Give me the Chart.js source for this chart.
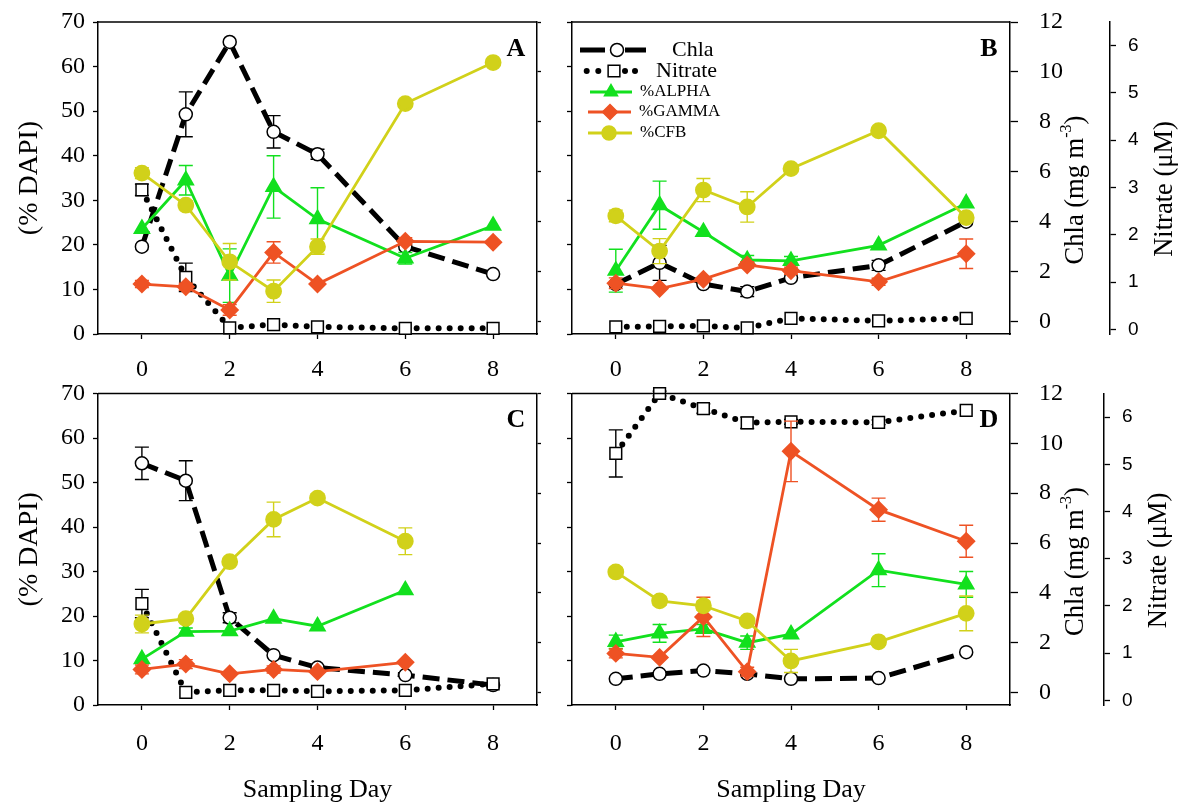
<!DOCTYPE html>
<html lang="en">
<head>
<meta charset="UTF-8">
<title>Bacterial groups, Chla and nitrate</title>
<script src="https://cdn.jsdelivr.net/npm/chart.js@4.4.1/dist/chart.umd.min.js"></script>
<style>
  body { margin: 0; background: #fff; }
  #wrap { position: relative; width: 1185px; height: 812px; overflow: hidden; }
  canvas { position: absolute; }
</style>
</head>
<body>
<div id="wrap">
  <canvas id="chartA" width="560" height="390" style="left:0;top:0"></canvas>
  <canvas id="chartB" width="645" height="390" style="left:540px;top:0"></canvas>
  <canvas id="chartC" width="560" height="441" style="left:0;top:371px"></canvas>
  <canvas id="chartD" width="645" height="441" style="left:540px;top:371px"></canvas>
</div>
<script>
const days = [0, 1, 2, 3, 4, 6, 8];
const dayTicks = [0, 2, 4, 6, 8];
const dapiTicks = [0, 10, 20, 30, 40, 50, 60, 70];
const chlaTicks = [0, 2, 4, 6, 8, 10, 12];
const nitrateTicks = [0, 1, 2, 3, 4, 5, 6];

// panel A
const aChla = [3.0, 8.3, 11.2, 7.6, 6.7, 3.0, 1.9];
const aChlaErr = [0, 0.9, 0, 0.65, 0.2, 0, 0];
const aNitrate = [2.95, 1.1, 0.03, 0.1, 0.05, 0.02, 0.02];
const aNitrateErr = [0.12, 0.3, 0, 0, 0, 0, 0];
const aAlpha = [23.6, 34.5, 13.1, 33.0, 25.8, 17.0, 24.3];
const aAlphaErr = [0, 3.3, 6, 7, 7, 1.3, 0];
const aGamma = [11.2, 10.6, 5.4, 18.3, 11.2, 20.8, 20.6];
const aGammaErr = [0.8, 0.8, 1.2, 2.4, 0, 0.8, 0];
const aCfb = [36.1, 28.9, 16.2, 9.6, 19.6, 51.7, 60.9];
const aCfbErr = [1.2, 1.0, 4.1, 2.5, 1.7, 0, 0.6];

// panel B
const bChla = [1.5, 2.35, 1.5, 1.2, 1.75, 2.25, 4.0];
const bChlaErr = [0, 0.7, 0, 0.2, 0, 0.2, 0];
const bNitrate = [0.05, 0.06, 0.07, 0.03, 0.23, 0.18, 0.23];
const bNitrateErr = [0, 0, 0, 0, 0, 0, 0];
const bAlpha = [14.2, 28.9, 22.9, 16.6, 16.4, 19.9, 29.3];
const bAlphaErr = [4.8, 5.4, 0, 1, 1, 0, 0];
const bGamma = [11.4, 10.2, 12.3, 15.5, 14.2, 11.7, 18.0];
const bGammaErr = [1.2, 0, 0, 0.7, 0.8, 0.8, 3.3];
const bCfb = [26.5, 18.6, 32.3, 28.5, 37.1, 45.6, 26.1];
const bCfbErr = [1.3, 2.8, 2.6, 3.4, 0.6, 0, 0];

// panel C
const cChla = [9.2, 8.5, 3.0, 1.5, 1.0, 0.7, 0.3];
const cChlaErr = [0.65, 0.8, 0.2, 0, 0, 0, 0];
const cNitrate = [2.05, 0.17, 0.21, 0.21, 0.19, 0.21, 0.35];
const cNitrateErr = [0.3, 0, 0, 0, 0, 0, 0];
const cAlpha = [10.3, 16.5, 16.6, 19.4, 17.7, 25.8, null];
const cAlphaErr = [0, 0.8, 0, 0, 0, 0, 0];
const cGamma = [8.0, 9.2, 7.0, 8.0, 7.5, 9.6, null];
const cGammaErr = [1, 1, 0, 0.8, 0, 0, 0];
const cCfb = [18.2, 19.4, 32.2, 41.7, 46.5, 36.8, null];
const cCfbErr = [2, 0.7, 0.5, 3.9, 1, 3, 0];

// panel D
const dChla = [0.55, 0.75, 0.88, 0.75, 0.55, 0.58, 1.62];
const dChlaErr = [0, 0, 0, 0, 0, 0, 0];
const dNitrate = [5.23, 6.5, 6.18, 5.88, 5.9, 5.89, 6.14];
const dNitrateErr = [0.5, 0.05, 0.1, 0.12, 0.05, 0.05, 0];
const dAlpha = [14.2, 16.1, 17.1, 14.0, 15.9, 30.3, 27.1];
const dAlphaErr = [1.5, 2, 1, 1.5, 0, 3.7, 2.9];
const dGamma = [11.6, 10.7, 19.8, 7.5, 57.0, 43.9, 36.8];
const dGammaErr = [1, 0, 4.4, 1, 6.8, 2.6, 3.6];
const dCfb = [29.9, 23.4, 22.3, 18.9, 9.9, 14.2, 20.6];
const dCfbErr = [1, 1, 1, 0, 2.6, 0.7, 3.9];

const SERIF = "'Liberation Serif', 'Times New Roman', serif";
const SANS = "'Liberation Sans', Arial, sans-serif";
const GREEN = '#12e01e';
const RED = '#ee5224';
const YELLOW = '#d1d11a';

function series(vals) {
  return days.map((d, i) => ({ x: d, y: vals[i] }));
}

function makeDatasets(chla, chlaErr, nit, nitErr, alpha, alphaErr, gamma, gammaErr, cfb, cfbErr) {
  const common = { fill: false, tension: 0, clip: false, spanGaps: false };
  return [
    { ...common, label: 'Chla', data: series(chla), err: chlaErr, errColor: '#000', yAxisID: 'yChla',
      borderColor: '#000', borderWidth: 5, borderDash: [17, 8], pointStyle: 'circle', pointRadius: 6.5,
      pointBackgroundColor: '#fff', pointBorderColor: '#000', pointBorderWidth: 1.5, order: 4 },
    { ...common, label: 'Nitrate', data: series(nit), err: nitErr, errColor: '#000', yAxisID: 'yNit',
      borderColor: '#000', borderWidth: 6, borderDash: [0, 11], borderCapStyle: 'round', pointStyle: 'rect',
      pointRadius: 8.3, pointBackgroundColor: '#fff', pointBorderColor: '#000', pointBorderWidth: 1.5, order: 3 },
    { ...common, label: '%ALPHA', data: series(alpha), err: alphaErr, errColor: GREEN, yAxisID: 'y',
      borderColor: GREEN, borderWidth: 2.8, pointStyle: 'triangle', pointRadius: 7.5,
      pointBackgroundColor: GREEN, pointBorderColor: GREEN, order: 2 },
    { ...common, label: '%GAMMA', data: series(gamma), err: gammaErr, errColor: RED, yAxisID: 'y',
      borderColor: RED, borderWidth: 2.8, pointStyle: 'rectRot', pointRadius: 7.5,
      pointBackgroundColor: RED, pointBorderColor: RED, order: 1 },
    { ...common, label: '%CFB', data: series(cfb), err: cfbErr, errColor: YELLOW, yAxisID: 'y',
      borderColor: YELLOW, borderWidth: 2.8, pointStyle: 'circle', pointRadius: 7,
      pointBackgroundColor: YELLOW, pointBorderColor: YELLOW, order: 0 }
  ];
}

// error bars, drawn just before each dataset so the markers sit on top
const errorBars = {
  id: 'errorBars',
  beforeDatasetDraw(chart, args) {
    const ds = chart.data.datasets[args.index];
    if (!ds.err) return;
    const ys = chart.scales[ds.yAxisID];
    const ctx = chart.ctx;
    ctx.save();
    ctx.setLineDash([]);
    ctx.strokeStyle = ds.errColor;
    ctx.lineWidth = 1.4;
    args.meta.data.forEach((pt, i) => {
      const e = ds.err[i];
      const v = ds.data[i].y;
      if (!e || v === null) return;
      const y1 = ys.getPixelForValue(v + e);
      const y2 = ys.getPixelForValue(v - e);
      ctx.beginPath();
      ctx.moveTo(pt.x, y1); ctx.lineTo(pt.x, y2);
      ctx.moveTo(pt.x - 7, y1); ctx.lineTo(pt.x + 7, y1);
      ctx.moveTo(pt.x - 7, y2); ctx.lineTo(pt.x + 7, y2);
      ctx.stroke();
    });
    ctx.restore();
  }
};

function marker(ctx, style, x, y, r, fill, stroke) {
  ctx.save();
  ctx.setLineDash([]);
  ctx.fillStyle = fill;
  ctx.strokeStyle = stroke;
  ctx.lineWidth = 1.5;
  ctx.beginPath();
  if (style === 'circle') {
    ctx.arc(x, y, r, 0, Math.PI * 2);
  } else if (style === 'rect') {
    const s = r * Math.SQRT1_2;
    ctx.rect(x - s, y - s, 2 * s, 2 * s);
  } else if (style === 'triangle') {
    ctx.moveTo(x, y - r);
    ctx.lineTo(x + r * 0.866, y + r * 0.5);
    ctx.lineTo(x - r * 0.866, y + r * 0.5);
    ctx.closePath();
  } else {
    ctx.moveTo(x, y - r); ctx.lineTo(x + r, y); ctx.lineTo(x, y + r); ctx.lineTo(x - r, y);
    ctx.closePath();
  }
  ctx.fill();
  ctx.stroke();
  ctx.restore();
}

function seg(ctx, x1, x2, y) {
  ctx.beginPath(); ctx.moveTo(x1, y); ctx.lineTo(x2, y); ctx.stroke();
}

function drawLegend(ctx, a) {
  const L = a.left, T = a.top;
  ctx.save();
  ctx.textAlign = 'left';
  ctx.textBaseline = 'middle';
  ctx.fillStyle = '#000';
  // Chla
  ctx.strokeStyle = '#000'; ctx.lineWidth = 5;
  seg(ctx, L + 8, L + 33, T + 28);
  seg(ctx, L + 53, L + 74, T + 28);
  marker(ctx, 'circle', L + 45, T + 28, 6.5, '#fff', '#000');
  ctx.font = '22px ' + SERIF;
  ctx.fillText('Chla', L + 100, T + 28);
  // Nitrate
  [14.7, 26.3, 53, 63].forEach(dx => {
    ctx.beginPath(); ctx.arc(L + dx, T + 49, 3, 0, Math.PI * 2); ctx.fill();
  });
  marker(ctx, 'rect', L + 42, T + 49, 8.3, '#fff', '#000');
  ctx.fillText('Nitrate', L + 84, T + 49);
  // bacterial groups
  ctx.font = '17px ' + SERIF;
  const rows = [
    ['%ALPHA', GREEN, 'triangle', 7.5, T + 70, 18, 60, 39, 68],
    ['%GAMMA', RED, 'rectRot', 7.5, T + 90, 16, 59, 38, 67],
    ['%CFB', YELLOW, 'circle', 7, T + 111, 16, 60, 37, 68]
  ];
  rows.forEach(([txt, col, st, r, y, x1, x2, xm, xt]) => {
    ctx.strokeStyle = col; ctx.lineWidth = 2.8;
    seg(ctx, L + x1, L + x2, y);
    marker(ctx, st, L + xm, y, r, col, col);
    ctx.fillStyle = '#000';
    ctx.fillText(txt, L + xt, y);
  });
  ctx.restore();
}

function drawRotText(ctx, cx, cy, parts) {
  ctx.save();
  ctx.translate(cx, cy);
  ctx.rotate(-Math.PI / 2);
  ctx.fillStyle = '#000';
  ctx.textAlign = 'left';
  ctx.textBaseline = 'alphabetic';
  let total = 0;
  parts.forEach(p => { ctx.font = p.font; p.w = ctx.measureText(p.text).width; total += p.w; });
  let x = -total / 2;
  parts.forEach(p => { ctx.font = p.font; ctx.fillText(p.text, x, p.dy); x += p.w; });
  ctx.restore();
}

const framePlugin = {
  id: 'frame',
  afterDraw(chart, args, opts) {
    const ctx = chart.ctx;
    const a = chart.chartArea;
    ctx.save();
    ctx.strokeStyle = '#000';
    ctx.lineWidth = 1.5;
    ctx.setLineDash([]);
    seg(ctx, a.left, a.right, a.top);
    ctx.font = 'bold 26px ' + SERIF;
    ctx.fillStyle = '#000';
    ctx.textAlign = 'center';
    ctx.textBaseline = 'middle';
    ctx.fillText(opts.letter, a.right - 21, a.top + 27);
    ctx.restore();
    if (opts.legend) drawLegend(ctx, a);
    if (opts.rightTitles) {
      const big = '26.5px ' + SERIF;
      drawRotText(ctx, a.right + 73, a.top + 168, [
        { text: 'Chla (mg m', font: big, dy: 0 },
        { text: '-3', font: '16px ' + SERIF, dy: -12 },
        { text: ')', font: big, dy: 0 }
      ]);
      drawRotText(ctx, chart.scales.yNit.left + 62, a.top + 167, [
        { text: 'Nitrate (\u03BCM)', font: big, dy: 0 }
      ]);
    }
  }
};

function tickGrid(len) {
  return { display: true, drawOnChartArea: false, drawTicks: true, tickLength: len, tickColor: '#000', tickWidth: 1.3 };
}
const frameBorder = { display: true, color: '#000', width: 1.5 };

// keep the plot frame where it is: no extra room for end labels
function noPad(s) {
  s.paddingTop = 0; s.paddingBottom = 0; s.paddingLeft = 0; s.paddingRight = 0;
}

function makeScales(c) {
  return {
    x: {
      type: 'linear', position: 'bottom', min: -1, max: 9,
      afterBuildTicks: s => { s.ticks = dayTicks.map(v => ({ value: v })); },
      afterFit: s => { s.height = c.xHeight; noPad(s); },
      grid: tickGrid(5), border: frameBorder,
      ticks: { autoSkip: false, maxRotation: 0, color: '#000', padding: c.xPad, font: { family: SERIF, size: 24 } },
      title: { display: c.xTitle, text: 'Sampling Day', color: '#000', font: { family: SERIF, size: 26 }, padding: { top: 0, bottom: 6 } }
    },
    y: {
      type: 'linear', position: 'left', min: 0, max: 70,
      afterBuildTicks: s => { s.ticks = dapiTicks.map(v => ({ value: v })); },
      afterFit: s => { s.width = c.leftW; noPad(s); },
      grid: tickGrid(5), border: frameBorder,
      ticks: { display: c.leftLabels, color: '#000', padding: 8, font: { family: SERIF, size: 24 } },
      title: { display: c.leftLabels, text: '(% DAPI)', color: '#000', font: { family: SERIF, size: 28 }, padding: { top: 13, bottom: 0 } }
    },
    yChla: {
      type: 'linear', position: 'right', weight: 0, min: -0.5, max: 12,
      afterBuildTicks: s => { s.ticks = chlaTicks.map(v => ({ value: v })); },
      afterFit: s => { s.width = c.chlaW; noPad(s); },
      grid: tickGrid(c.rightLabels ? 8 : 4), border: frameBorder,
      ticks: { display: c.rightLabels, color: '#000', padding: 21, font: { family: SERIF, size: 24 } }
    },
    yNit: {
      type: 'linear', position: 'right', weight: 1, min: -0.1, max: 6.5, display: c.rightLabels,
      afterBuildTicks: s => { s.ticks = nitrateTicks.map(v => ({ value: v })); },
      afterFit: s => { if (c.rightLabels) s.width = c.nitW; noPad(s); },
      grid: tickGrid(6), border: frameBorder,
      ticks: { color: '#000', padding: 12, font: { family: SANS, size: 19 } }
    }
  };
}

function makePanel(id, datasets, c) {
  new Chart(document.getElementById(id), {
    type: 'line',
    data: { datasets },
    options: {
      responsive: false,
      animation: false,
      events: [],
      layout: { padding: { top: c.padTop, left: 0, right: 0, bottom: 0 } },
      scales: makeScales(c),
      plugins: {
        legend: { display: false },
        tooltip: { enabled: false },
        frame: { letter: c.letter, legend: c.legend, rightTitles: c.rightLabels }
      }
    },
    plugins: [errorBars, framePlugin]
  });
}

makePanel('chartA', makeDatasets(aChla, aChlaErr, aNitrate, aNitrateErr, aAlpha, aAlphaErr, aGamma, aGammaErr, aCfb, aCfbErr),
  { letter: 'A', leftW: 98, leftLabels: true, chlaW: 23, rightLabels: false, xHeight: 56, xPad: 16, xTitle: false, padTop: 22, legend: false });
makePanel('chartB', makeDatasets(bChla, bChlaErr, bNitrate, bNitrateErr, bAlpha, bAlphaErr, bGamma, bGammaErr, bCfb, bCfbErr),
  { letter: 'B', leftW: 32, leftLabels: false, chlaW: 100, nitW: 75, rightLabels: true, xHeight: 56, xPad: 16, xTitle: false, padTop: 22, legend: true });
makePanel('chartC', makeDatasets(cChla, cChlaErr, cNitrate, cNitrateErr, cAlpha, cAlphaErr, cGamma, cGammaErr, cCfb, cCfbErr),
  { letter: 'C', leftW: 98, leftLabels: true, chlaW: 23, rightLabels: false, xHeight: 107, xPad: 19, xTitle: true, padTop: 22.5, legend: false });
makePanel('chartD', makeDatasets(dChla, dChlaErr, dNitrate, dNitrateErr, dAlpha, dAlphaErr, dGamma, dGammaErr, dCfb, dCfbErr),
  { letter: 'D', leftW: 32, leftLabels: false, chlaW: 94, nitW: 81, rightLabels: true, xHeight: 107, xPad: 19, xTitle: true, padTop: 22.5, legend: false });
</script>
</body>
</html>
